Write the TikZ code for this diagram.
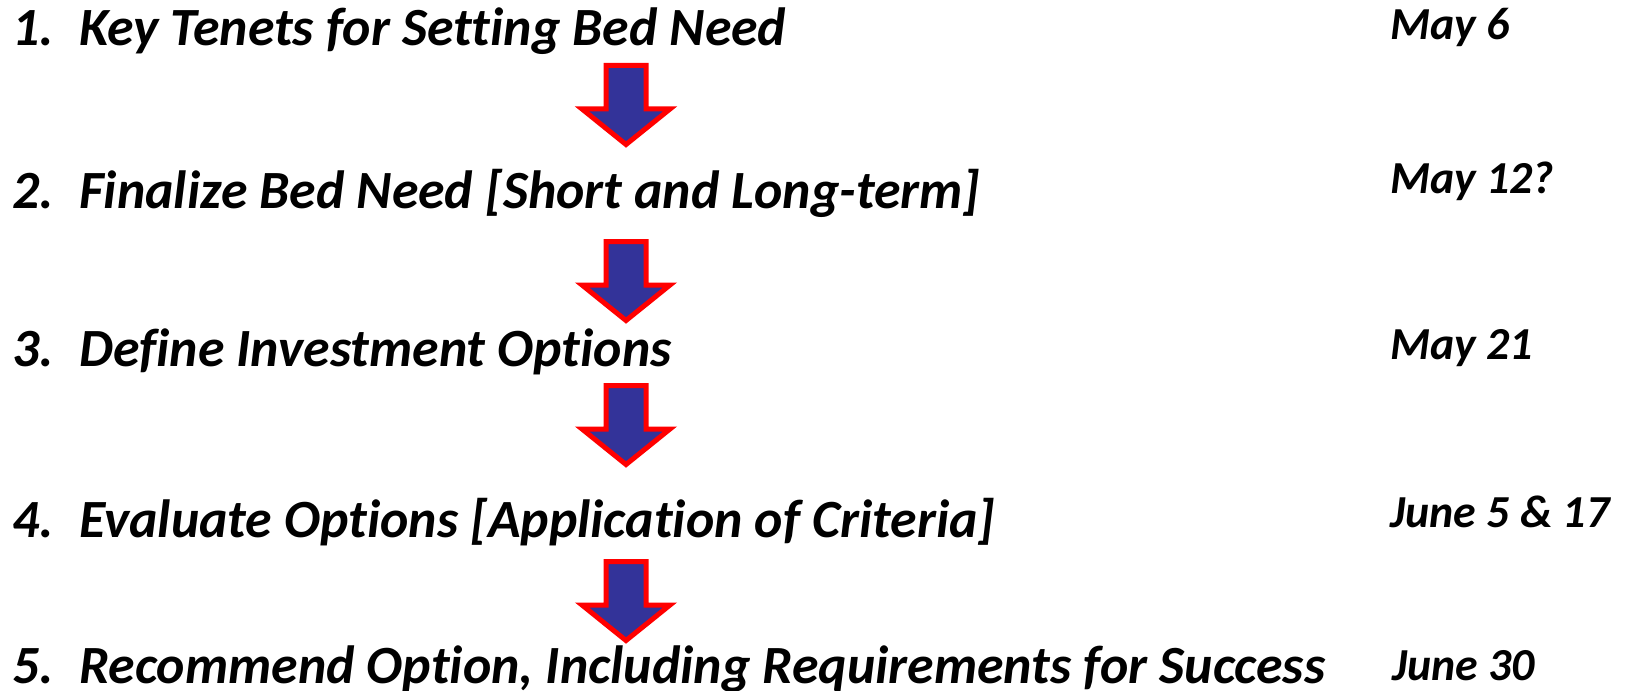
\documentclass[tikz,border=0pt]{standalone}
\usepackage{fontspec}
\setmainfont{Carlito}[Ligatures=NoCommon]
\usetikzlibrary{positioning}
\definecolor{arrowblue}{HTML}{333399}
\definecolor{arrowred}{HTML}{FF0000}

\begin{document}
\begin{tikzpicture}[x=1bp,y=-1bp,
    steptext/.style={anchor=base west,inner sep=0pt,font=\fontsize{54}{60}\selectfont\bfseries\itshape},
    datetext/.style={anchor=base west,inner sep=0pt,font=\fontsize{46}{52}\selectfont\bfseries\itshape},
    blockarrow/.style={draw=arrowred,fill=arrowblue,line width=5bp,miter limit=10}]
        % Canvas
        \useasboundingbox (0,0) rectangle (1635,691);

        % Steps on the left
        \node[steptext] (step1) at (12,46) {\makebox[67bp][l]{1.}Key Tenets for Setting Bed Need};
        \node[steptext] (step2) at (12,208) {\makebox[67bp][l]{2.}Finalize Bed Need [Short and Long-term]};
        \node[steptext] (step3) at (12,366) {\makebox[67bp][l]{3.}Define Investment Options};
        \node[steptext] (step4) at (12,537) {\makebox[67bp][l]{4.}Evaluate Options [Application of Criteria]};
        \node[steptext] (step5) at (12,683) {\makebox[67bp][l]{5.}Recommend Option, Including Requirements for Success};

        % Dates on the right
        \node[datetext] (date1) at (1390,40) {May 6};
        \node[datetext] (date2) at (1390,193) {May 12?};
        \node[datetext] (date3) at (1390,359) {May 21};
        \node[datetext] (date4) at (1390,527) {June 5 \& 17};
        \node[datetext] (date5) at (1392,680) {June 30};

        % Block arrows between the steps
        \foreach \ytop [count=\i] in {63,239,383,559}{
            \coordinate (arr\i) at (626,\ytop);
            \draw[blockarrow] (arr\i) ++(-20,2.5) -- ++(40,0) -- ++(0,43.5) -- ++(24,0)
                -- ++(-44,35.5) -- ++(-44,-35.5) -- ++(24,0) -- cycle;
        }
\end{tikzpicture}
\end{document}
